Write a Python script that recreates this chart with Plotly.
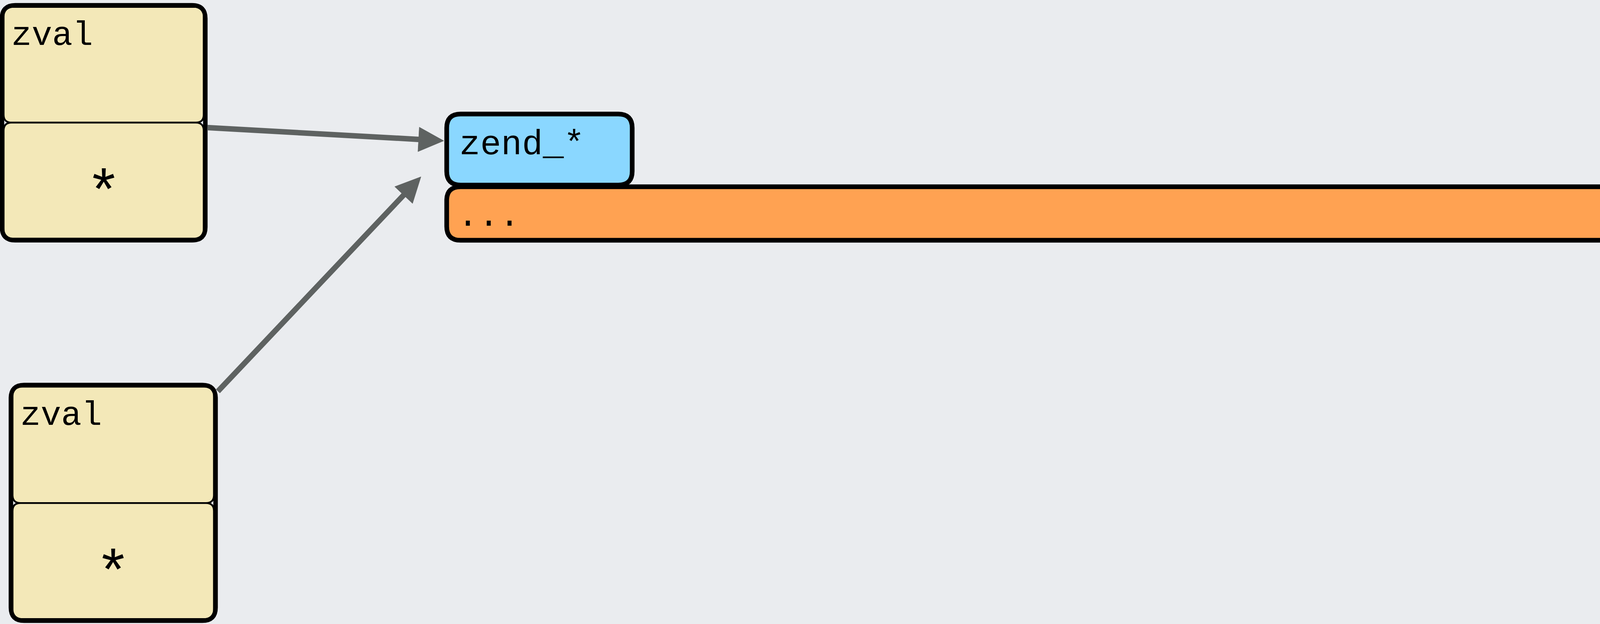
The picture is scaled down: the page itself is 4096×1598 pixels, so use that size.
import plotly.graph_objects as go

# ---------------- data (reference pixel space: 4839 x 1888) ----------------
REF_W, REF_H = 4839, 1888

# two zval structs (header cell + pointer cell)
zval_labels = ["zval", "zval"]
zval_pointer = ["*", "*"]
zval_left = [6, 33]
zval_right = [621, 652]
zval_top = [16, 1165]
zval_split = [371, 1522]
zval_bottom = [727, 1878]

# target blocks
block_labels = ["zend_*", "..."]
block_left = [1351, 1351]
block_right = [1912, 4960]
block_top = [345, 565]
block_bottom = [560, 727]
block_colors = ["#8ad7ff", "#ffa252"]

# connectors (start -> tip)
arrow_x0 = [627, 659]
arrow_y0 = [386, 1184]
arrow_x1 = [1342, 1273]
arrow_y1 = [426, 535]

# ---------------- styles ----------------
BG = "#eaecef"
YELLOW = "#f3e8b8"
INK = "#000000"
ARROW = "#5e6261"
MONO = "Courier New, Liberation Mono, monospace"


def rrect(x0, y0, x1, y1, r):
    return (f"M {x0+r},{y0} L {x1-r},{y0} Q {x1},{y0} {x1},{y0+r} "
            f"L {x1},{y1-r} Q {x1},{y1} {x1-r},{y1} L {x0+r},{y1} "
            f"Q {x0},{y1} {x0},{y1-r} L {x0},{y0+r} Q {x0},{y0} {x0+r},{y0} Z")


shapes = []
annotations = []

# zval boxes
for i in range(len(zval_labels)):
    x0, x1, y0, ys, y1 = zval_left[i], zval_right[i], zval_top[i], zval_split[i], zval_bottom[i]
    shapes.append(dict(type="path", path=rrect(x0 + 5, y0 + 5, x1 - 5, ys, 24),
                       xref="x", yref="y", fillcolor=YELLOW, line=dict(color=INK, width=4.5)))
    shapes.append(dict(type="path", path=rrect(x0 + 5, ys, x1 - 5, y1 - 5, 24),
                       xref="x", yref="y", fillcolor=YELLOW, line=dict(color=INK, width=4.5)))
    shapes.append(dict(type="path", path=rrect(x0, y0, x1, y1, 40),
                       xref="x", yref="y", fillcolor="rgba(0,0,0,0)", line=dict(color=INK, width=11.5)))
    annotations.append(dict(x=x0 + 26, y=y0 + 93, xref="x", yref="y", text=zval_labels[i],
                            showarrow=False, xanchor="left", yanchor="middle",
                            font=dict(family=MONO, size=87, color=INK)))
    annotations.append(dict(x=(x0 + x1) / 2, y=(ys + y1) / 2 + 42, xref="x", yref="y",
                            text=zval_pointer[i], showarrow=False, xanchor="center", yanchor="middle",
                            font=dict(family=MONO, size=152, color=INK)))

# blocks: draw in reverse so first block sits on top
for i in reversed(range(len(block_labels))):
    shapes.append(dict(type="path",
                       path=rrect(block_left[i], block_top[i], block_right[i], block_bottom[i], 42),
                       xref="x", yref="y", fillcolor=block_colors[i], line=dict(color=INK, width=12)))

annotations.append(dict(x=block_left[0] + 36, y=block_top[0] + 94, xref="x", yref="y",
                        text=block_labels[0], showarrow=False, xanchor="left", yanchor="middle",
                        font=dict(family=MONO, size=89, color=INK)))
annotations.append(dict(x=block_left[1] + 30, y=block_top[1] + 90, xref="x", yref="y",
                        text=block_labels[1], showarrow=False, xanchor="left", yanchor="middle",
                        font=dict(family=MONO, size=89, color=INK)))

# arrows
HEAD_L, HEAD_W = 76, 37
for i in range(len(arrow_x0)):
    sx, sy, tx, ty = arrow_x0[i], arrow_y0[i], arrow_x1[i], arrow_y1[i]
    dx, dy = tx - sx, ty - sy
    L = (dx * dx + dy * dy) ** 0.5
    ux, uy = dx / L, dy / L
    bx, by = tx - ux * HEAD_L, ty - uy * HEAD_L
    px, py = -uy, ux
    shapes.append(dict(type="line", x0=sx, y0=sy, x1=bx + ux * 4, y1=by + uy * 4, xref="x", yref="y",
                       line=dict(color=ARROW, width=14)))
    shapes.append(dict(type="path",
                       path=f"M {tx},{ty} L {bx + px*HEAD_W},{by + py*HEAD_W} L {bx - px*HEAD_W},{by - py*HEAD_W} Z",
                       xref="x", yref="y", fillcolor=ARROW, line=dict(color=ARROW, width=1)))

fig = go.Figure()
fig.add_trace(go.Scatter(x=[0, REF_W], y=[0, REF_H], mode="markers",
                         marker=dict(opacity=0), hoverinfo="skip", showlegend=False))
fig.update_layout(
    width=4096, height=1598,
    margin=dict(l=0, r=0, t=0, b=0),
    paper_bgcolor=BG, plot_bgcolor=BG,
    xaxis=dict(range=[0, REF_W], visible=False, fixedrange=True),
    yaxis=dict(range=[REF_H, 0], visible=False, fixedrange=True),
    shapes=shapes, annotations=annotations, showlegend=False,
)
fig.write_html("out.html", config={"displayModeBar": False},
               post_script="document.body.style.margin='0';document.body.style.padding='0';"
                           "document.body.style.overflow='hidden';"
                           "document.body.style.background='" + BG + "';")
